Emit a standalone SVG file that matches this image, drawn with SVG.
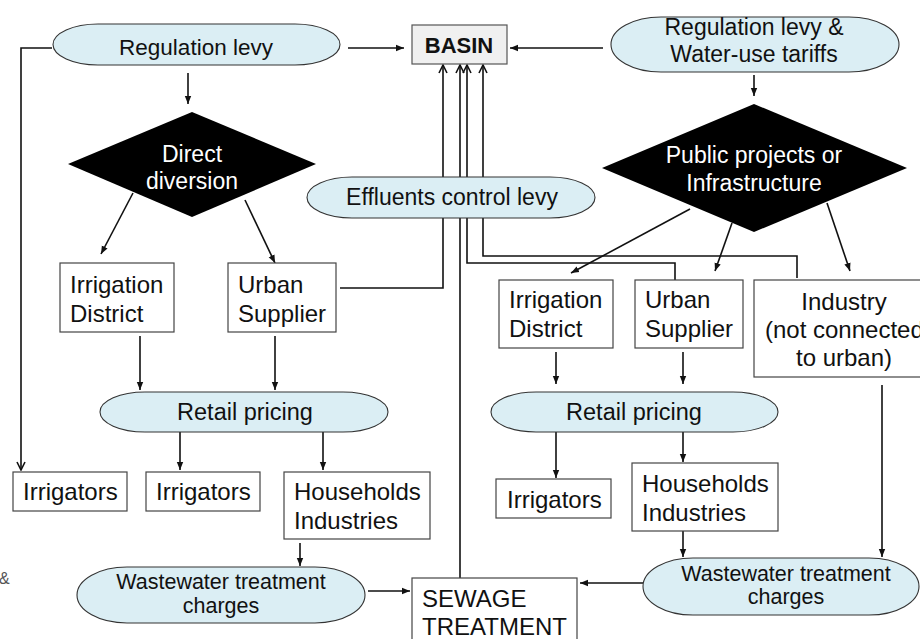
<svg xmlns="http://www.w3.org/2000/svg" width="920" height="639" viewBox="0 0 920 639">
<style>
.t{font-family:"Liberation Sans",Arial,sans-serif;fill:#111}
.bx{font-size:24px}
.e{fill:#dbeef4;stroke:#333;stroke-width:1.1}
.b{fill:#fff;stroke:#444;stroke-width:1.2}
.d{fill:#000}
.w{font-family:"Liberation Sans",Arial,sans-serif;fill:#fff;font-size:23px}
.c{fill:none;stroke:#111;stroke-width:1.6}
</style>
<defs>
<marker id="a" viewBox="0 0 10 10" refX="10" refY="5" markerWidth="8" markerHeight="8" markerUnits="userSpaceOnUse" orient="auto"><path d="M0,1 L10,5 L0,9 z" fill="#111"/></marker>
<marker id="o" viewBox="0 0 10 10" refX="9" refY="5" markerWidth="10" markerHeight="10" markerUnits="userSpaceOnUse" orient="auto"><path d="M1,1 L9,5 L1,9" fill="none" stroke="#111" stroke-width="1.6"/></marker>
</defs>
<rect width="920" height="639" fill="#fff"/>

<g id="connectors">
<path class="c" d="M52,48 H21 V470" stroke-width="2" marker-end="url(#o)"/>
<path class="c" d="M348,48 H404" stroke-width="1" marker-end="url(#a)"/>
<path class="c" d="M603,48 H510" stroke-width="1" marker-end="url(#a)"/>
<path class="c" d="M188,73 V104" stroke-width="1.2" marker-end="url(#a)"/>
<path class="c" d="M754,75 V96" stroke-width="1.5" marker-end="url(#a)"/>
<path class="c" d="M133,193 L101,254" stroke-width="1" marker-end="url(#a)"/>
<path class="c" d="M245,200 L275,263" stroke-width="1" marker-end="url(#a)"/>
<path class="c" d="M690,209 L571,273" stroke-width="2" marker-end="url(#a)"/>
<path class="c" d="M732,223 L715,271" stroke-width="2" marker-end="url(#a)"/>
<path class="c" d="M827,203 L850,271" stroke-width="2" marker-end="url(#a)"/>
<path class="c" d="M340,288 H443 V65" stroke-width="2" marker-end="url(#o)"/>
<path class="c" d="M460,578 V65" stroke-width="1.6" marker-end="url(#o)"/>
<path class="c" d="M675,280 V263 H467 V65" stroke-width="3.5" marker-end="url(#o)"/>
<path class="c" d="M797,278 V256 H483 V65" stroke-width="1" stroke="#333" marker-end="url(#o)"/>
<path class="c" d="M140,336 V390" marker-end="url(#a)"/>
<path class="c" d="M275,336 V390" marker-end="url(#a)"/>
<path class="c" d="M556,352 V384" marker-end="url(#a)"/>
<path class="c" d="M683,352 V384" marker-end="url(#a)"/>
<path class="c" d="M180,432 V470" marker-end="url(#a)"/>
<path class="c" d="M323,432 V470" marker-end="url(#a)"/>
<path class="c" d="M556,432 V478" marker-end="url(#a)"/>
<path class="c" d="M683,432 V462" marker-end="url(#a)"/>
<path class="c" d="M300,543 V566" stroke="#444" stroke-width="1.2" marker-end="url(#a)"/>
<path class="c" d="M683,531 V557" marker-end="url(#a)"/>
<path class="c" d="M882,385 V557" marker-end="url(#a)"/>
<path class="c" d="M368,591 H410" stroke-width="1.2" marker-end="url(#a)"/>
<path class="c" d="M643,583 H580" stroke-width="2" marker-end="url(#a)"/>
</g>

<g id="regulation-levy">
<rect class="e" x="53" y="24" width="287" height="41" rx="45" ry="20.5"/>
<text class="t" x="196" y="55" font-size="22.5" text-anchor="middle">Regulation levy</text>
</g>
<g id="basin">
<rect x="412" y="25" width="95" height="39" fill="#f0f0f0" stroke="#555" stroke-width="1.2"/>
<text class="t" x="459" y="53" font-size="22" font-weight="bold" text-anchor="middle">BASIN</text>
</g>
<g id="regulation-levy-tariffs">
<rect class="e" x="611" y="17" width="288" height="55" rx="50" ry="27.5"/>
<text class="t" x="754" y="35" font-size="23" text-anchor="middle">Regulation levy &amp;</text>
<text class="t" x="754" y="62" font-size="23" text-anchor="middle">Water-use tariffs</text>
</g>
<g id="direct-diversion">
<path class="d" d="M192,112 L316,164 L192,217 L68,164 z"/>
<text class="w" x="192" y="162" text-anchor="middle">Direct</text>
<text class="w" x="192" y="189" text-anchor="middle">diversion</text>
</g>
<g id="public-projects">
<path class="d" d="M754,104 L907,168 L754,232 L602,168 z"/>
<text class="w" x="754" y="163" text-anchor="middle">Public projects or</text>
<text class="w" x="754" y="191" text-anchor="middle">Infrastructure</text>
</g>
<g id="effluents-levy">
<rect class="e" x="307" y="177" width="288" height="41" rx="45" ry="20.5"/>
<text class="t" x="452" y="205" font-size="23" text-anchor="middle">Effluents control levy</text>
</g>

<g id="irrigation-district-l">
<rect class="b" x="60" y="263" width="114" height="69"/>
<text class="t bx" x="70" y="293">Irrigation</text>
<text class="t bx" x="70" y="322">District</text>
</g>
<g id="urban-supplier-l">
<rect class="b" x="228" y="263" width="108" height="69"/>
<text class="t bx" x="238" y="293">Urban</text>
<text class="t bx" x="238" y="322">Supplier</text>
</g>
<g id="irrigation-district-r">
<rect class="b" x="499" y="280" width="114" height="68"/>
<text class="t bx" x="509" y="308">Irrigation</text>
<text class="t bx" x="509" y="337">District</text>
</g>
<g id="urban-supplier-r">
<rect class="b" x="635" y="280" width="108" height="68"/>
<text class="t bx" x="645" y="308">Urban</text>
<text class="t bx" x="645" y="337">Supplier</text>
</g>
<g id="industry">
<rect class="b" x="754" y="280" width="180" height="97"/>
<text class="t bx" x="844" y="310" text-anchor="middle">Industry</text>
<text class="t bx" x="765" y="338">(not connected</text>
<text class="t bx" x="844" y="366" text-anchor="middle">to urban)</text>
</g>

<g id="retail-pricing-l">
<rect class="e" x="100" y="392" width="288" height="40" rx="45" ry="20"/>
<text class="t" x="245" y="420" font-size="23.5" text-anchor="middle">Retail pricing</text>
</g>
<g id="retail-pricing-r">
<rect class="e" x="491" y="392" width="287" height="40" rx="45" ry="20"/>
<text class="t" x="634" y="420" font-size="23.5" text-anchor="middle">Retail pricing</text>
</g>

<g id="irrigators-1">
<rect class="b" x="13" y="472" width="114" height="39"/>
<text class="t bx" x="23" y="500">Irrigators</text>
</g>
<g id="irrigators-2">
<rect class="b" x="146" y="472" width="114" height="39"/>
<text class="t bx" x="156" y="500">Irrigators</text>
</g>
<g id="households-l">
<rect class="b" x="284" y="472" width="146" height="67"/>
<text class="t bx" x="294" y="500">Households</text>
<text class="t bx" x="294" y="529">Industries</text>
</g>
<g id="irrigators-3">
<rect class="b" x="496" y="479" width="115" height="39"/>
<text class="t bx" x="507" y="508">Irrigators</text>
</g>
<g id="households-r">
<rect class="b" x="632" y="463" width="146" height="68"/>
<text class="t bx" x="642" y="492">Households</text>
<text class="t bx" x="642" y="521">Industries</text>
</g>

<g id="wastewater-l">
<rect class="e" x="77" y="567" width="288" height="56" rx="50" ry="28"/>
<text class="t" x="221" y="589" font-size="21.5" text-anchor="middle">Wastewater treatment</text>
<text class="t" x="221" y="613" font-size="21.5" text-anchor="middle">charges</text>
</g>
<g id="wastewater-r">
<rect class="e" x="643" y="558" width="276" height="57" rx="50" ry="28.5"/>
<text class="t" x="786" y="581" font-size="21.5" text-anchor="middle">Wastewater treatment</text>
<text class="t" x="786" y="604" font-size="21.5" text-anchor="middle">charges</text>
</g>
<g id="sewage-treatment">
<rect class="b" x="412" y="578" width="165" height="70"/>
<text class="t bx" x="422" y="607">SEWAGE</text>
<text class="t bx" x="422" y="635">TREATMENT</text>
</g>

<text class="t" x="-1" y="584" font-size="16" style="fill:#555">&amp;</text>
<text class="t" x="-5" y="604" font-size="16" style="fill:#555">)</text>
</svg>
